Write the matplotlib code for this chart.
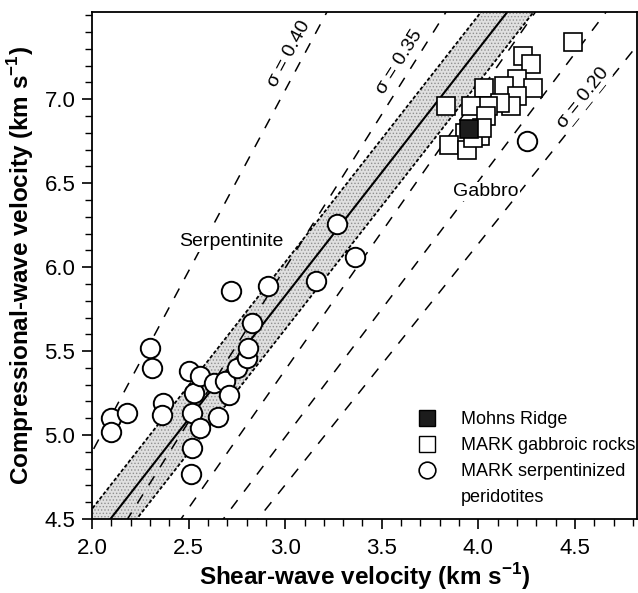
import numpy as np
import matplotlib.pyplot as plt
from matplotlib.ticker import MultipleLocator, FixedLocator
from matplotlib.lines import Line2D

plt.rcParams['font.family'] = ['Liberation Sans', 'DejaVu Sans']
plt.rcParams['mathtext.fontset'] = 'custom'
plt.rcParams['mathtext.rm'] = 'Liberation Sans'
plt.rcParams['mathtext.bf'] = 'Liberation Sans:bold'
plt.rcParams['hatch.linewidth'] = 0.6

# MARK serpentinized peridotites (Vs, Vp in km/s)
serp_vs = [2.30, 2.31, 2.10, 2.18, 2.10, 2.37, 2.36, 2.50, 2.53, 2.52,
           2.56, 2.52, 2.51, 2.56, 2.63, 2.69, 2.71, 2.65, 2.75, 2.80,
           2.81, 2.83, 3.27, 3.36, 3.16, 2.91, 2.72, 4.25]
serp_vp = [5.52, 5.40, 5.10, 5.13, 5.02, 5.19, 5.12, 5.38, 5.25, 5.13,
           5.04, 4.92, 4.77, 5.35, 5.31, 5.32, 5.24, 5.11, 5.40, 5.46,
           5.52, 5.67, 6.26, 6.06, 5.92, 5.89, 5.86, 6.75]

# MARK gabbroic rocks
gab_vs = [4.49, 4.23, 4.27, 4.20, 4.28, 4.13, 4.03, 4.20, 4.17, 4.11,
          4.05, 3.96, 3.83, 4.04, 3.93, 3.85, 3.94, 4.01, 3.97, 4.02]
gab_vp = [7.34, 7.26, 7.21, 7.12, 7.07, 7.08, 7.07, 7.02, 6.96, 6.98,
          6.96, 6.96, 6.96, 6.90, 6.80, 6.73, 6.70, 6.78, 6.77, 6.83]

# Mohns Ridge
mohns_vs = [3.95]
mohns_vp = [6.82]

# Poisson's ratio reference lines
sigmas = [0.40, 0.35, 0.30, 0.25, 0.20]
sigma_labels = {0.40: (3.02, 7.27), 0.35: (3.59, 7.225), 0.20: (4.54, 7.005)}

# best fit line through the serpentinites and its +-0.2 km/s band
fit_a, fit_b, band = 1.42, 1.47, 0.2

y_labels = [4.5, 5.0, 5.5, 6.0, 6.5, 7.0]


def vs_true(vs):
    # the printed Vs labels sit a bit off the tick marks in the original,
    # the sigma lines follow the ticks
    return 2.0 + 0.88 * (np.asarray(vs) - 2.0)


fig = plt.figure(figsize=(6.38, 5.93), dpi=100)
ax = fig.add_axes([0.1442, 0.1248, 0.854, 0.855])

vs = np.linspace(1.8, 5.0, 100)
fit = fit_a + fit_b * vs
ax.fill_between(vs, fit - band, fit + band, facecolor='#e0e0e0',
                edgecolor='#8f8f8f', hatch='.....', linewidth=0, zorder=1)
ax.plot(vs, fit - band, color='k', lw=1.3, ls=(0, (2, 1.2)), zorder=2)
ax.plot(vs, fit + band, color='k', lw=1.3, ls=(0, (2, 1.2)), zorder=2)
ax.plot(vs, fit, color='k', lw=1.5, zorder=2)

for s in sigmas:
    r = np.sqrt((2 - 2 * s) / (1 - 2 * s))
    ax.plot(vs, r * vs_true(vs), color='k', lw=1.1, ls=(0, (7, 7)), zorder=2)
    if s in sigma_labels:
        x, y = sigma_labels[s]
        ang = np.degrees(np.arctan(r * 0.88))
        ax.text(x, y, f'σ = {s:.2f}', fontsize=14, rotation=ang,
                rotation_mode='anchor', transform_rotates_text=True,
                ha='center', va='center', zorder=3,
                bbox=dict(facecolor='white', edgecolor='none', pad=0.5))

ax.text(2.72, 6.15, 'Serpentinite', fontsize=14, ha='center', va='center',
        zorder=3, bbox=dict(facecolor='white', edgecolor='none', pad=1))
ax.text(4.04, 6.45, 'Gabbro', fontsize=14, ha='center', va='center',
        zorder=3, bbox=dict(facecolor='white', edgecolor='none', pad=1))

ax.plot(serp_vs, serp_vp, 'o', ms=14, mfc='white', mec='k', mew=1.4,
        ls='none', zorder=4)
ax.plot(gab_vs, gab_vp, 's', ms=13.5, mfc='white', mec='k', mew=1.2,
        ls='none', zorder=4)
ax.plot(mohns_vs, mohns_vp, 's', ms=13.5, mfc='#1c1c1c', mec='k', mew=1.2,
        ls='none', zorder=5)

handles = [
    Line2D([], [], marker='s', ls='none', ms=12, mfc='#1c1c1c', mec='k', mew=1.0),
    Line2D([], [], marker='s', ls='none', ms=12, mfc='white', mec='k', mew=1.0),
    Line2D([], [], marker='o', ls='none', ms=12, mfc='white', mec='k', mew=1.2),
    Line2D([], [], ls='none'),
]
labels = ['Mohns Ridge', 'MARK gabbroic rocks', 'MARK serpentinized', 'peridotites']
ax.legend(handles, labels, loc='upper left', bbox_to_anchor=(0.568, 0.245),
          frameon=False, fontsize=13, handlelength=1.0, handletextpad=1.4,
          labelspacing=0.5, borderpad=0.4)

ax.set_xlim(2.0, 4.82)
ax.set_ylim(4.5, 7.52)
ax.xaxis.set_major_locator(MultipleLocator(0.5))
ax.xaxis.set_minor_locator(MultipleLocator(0.1))
ax.yaxis.set_major_locator(FixedLocator(y_labels))
ax.yaxis.set_minor_locator(MultipleLocator(0.1))
ax.xaxis.set_major_formatter('{x:.1f}')
ax.yaxis.set_major_formatter('{x:.1f}')
ax.tick_params(which='major', direction='out', length=7, width=1.2,
               labelsize=16, top=False, right=False)
ax.tick_params(axis='x', which='major', pad=7)
ax.tick_params(axis='y', which='major', pad=5)
ax.tick_params(which='minor', direction='out', length=5, width=1.0,
               top=False, right=False)
for sp in ax.spines.values():
    sp.set_linewidth(1.3)

ax.set_xlabel(r'Shear-wave velocity (km s$^{\mathbf{-1}}$)', fontsize=17.5,
              fontweight='bold', labelpad=1)
ax.set_ylabel(r'Compressional-wave velocity (km s$^{\mathbf{-1}}$)',
              fontsize=17.5, fontweight='bold', labelpad=6)

fig.savefig('out.png', dpi=100)
